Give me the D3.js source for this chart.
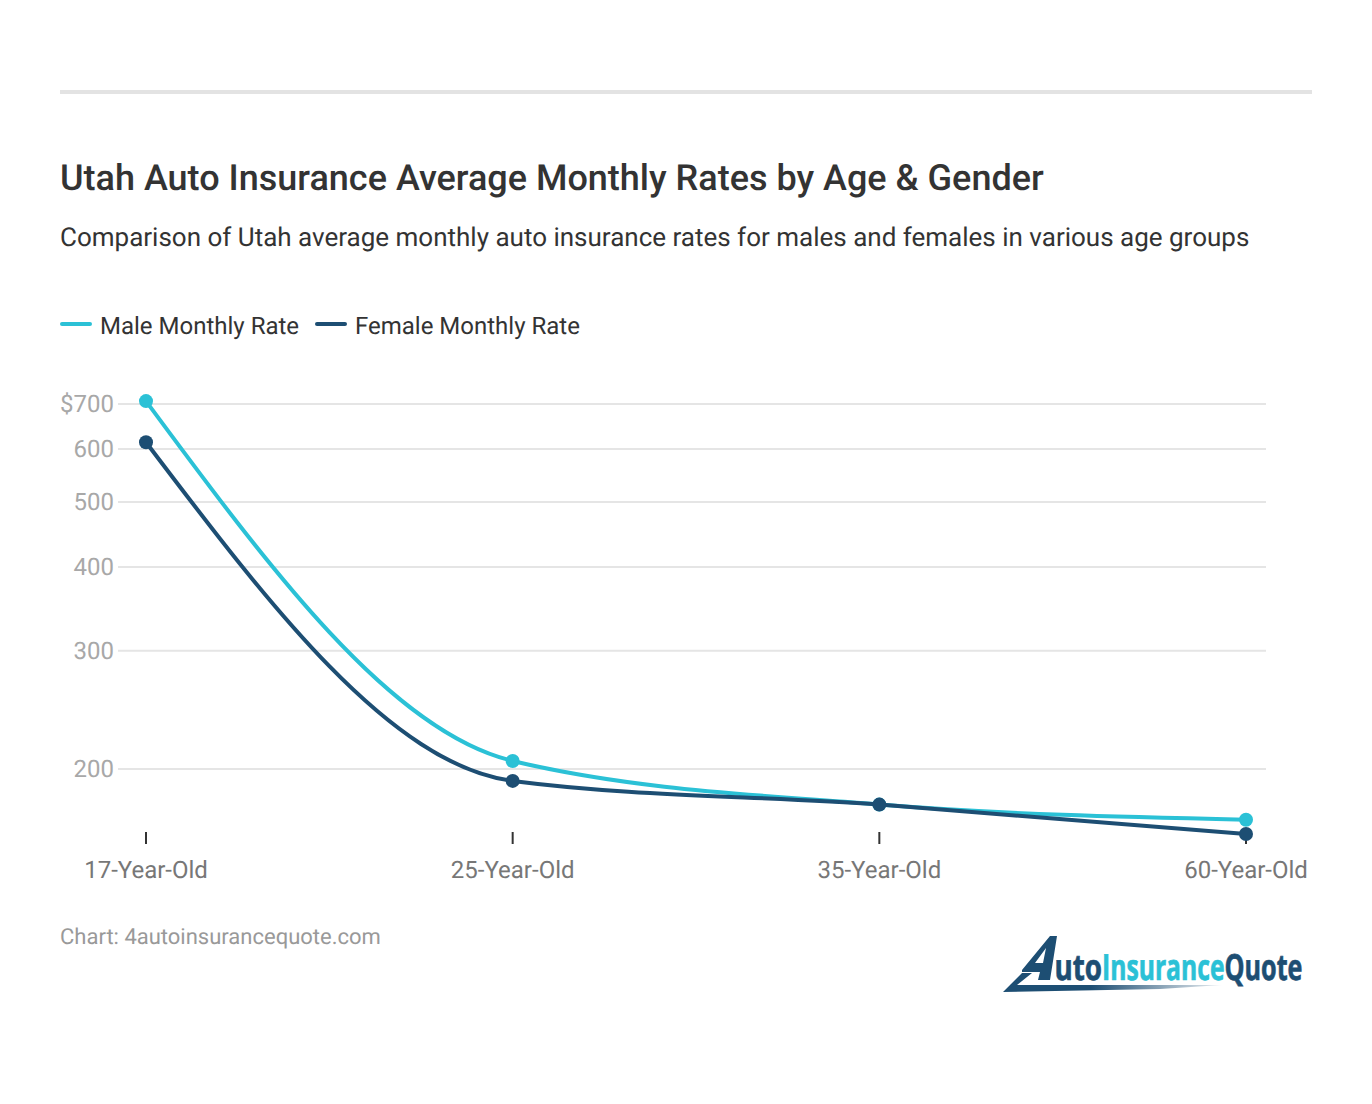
<!DOCTYPE html>
<html>
<head>
<meta charset="utf-8">
<script src="https://cdnjs.cloudflare.com/ajax/libs/d3/7.8.5/d3.min.js"></script>
<style>
  html, body { margin: 0; padding: 0; background: #fff; }
  text { font-family: Roboto, sans-serif; text-rendering: geometricPrecision; }
</style>
</head>
<body>
<div id="chart"></div>
<script>
const categories = ["17-Year-Old", "25-Year-Old", "35-Year-Old", "60-Year-Old"]
const maleRates = [707, 205.6, 177, 168]
const femaleRates = [614, 192, 177, 160]
const yTicks = [200, 300, 400, 500, 600, 700]

const cyan = "#2bc1d6"
const navy = "#1d4e73"

var width = 1372
var height = 1104

var svg = d3.select("#chart").append("svg")
  .attr("width", width)
  .attr("height", height)
  .style("display", "block")

// top rule
svg.append("rect").attr("x", 60).attr("y", 90).attr("width", 1252).attr("height", 4).attr("fill", "#e3e3e3")

svg.append("text").attr("x", 60).attr("y", 190)
  .attr("font-size", 36).attr("font-weight", 500).attr("fill", "#333")
  .text("Utah Auto Insurance Average Monthly Rates by Age & Gender")

svg.append("text").attr("x", 60).attr("y", 246)
  .attr("font-size", 26).attr("fill", "#333")
  .text("Comparison of Utah average monthly auto insurance rates for males and females in various age groups")

// legend
var legendItems = [
  { label: "Male Monthly Rate", color: cyan, x: 60 },
  { label: "Female Monthly Rate", color: navy, x: 315 }
]
var legend = svg.selectAll("g.legend").data(legendItems).enter().append("g")
  .attr("transform", d => "translate(" + d.x + ",324)")
legend.append("line").attr("x1", 2).attr("x2", 30)
  .attr("stroke", d => d.color).attr("stroke-width", 4).attr("stroke-linecap", "round")
legend.append("text").attr("x", 40).attr("y", 10)
  .attr("font-size", 24).attr("fill", "#333").text(d => d.label)

// scales
var x = d3.scalePoint().domain(categories).range([146, 1246])
var y = d3.scaleLog().domain([200, 700]).range([769, 404])

// grid + y labels
var yAxis = svg.append("g").attr("transform", "translate(118,0)")
  .call(d3.axisLeft(y).tickValues(yTicks).tickSize(0).tickPadding(4).offset(0)
    .tickFormat(d => d === 700 ? "$700" : d))
yAxis.select(".domain").remove()
yAxis.selectAll("text").attr("font-size", 24).attr("fill", "#a8a8a8")
  .style("font-family", "Roboto, sans-serif")
yAxis.selectAll(".tick").append("line").attr("x1", 0).attr("x2", 1148)
  .attr("stroke", "#e5e5e5").attr("stroke-width", 2)

// x axis
var xAxis = svg.append("g").attr("transform", "translate(0,832)")
  .call(d3.axisBottom(x).tickSize(12).tickPadding(17).offset(0))
xAxis.select(".domain").remove()
xAxis.selectAll("line").attr("stroke", "#333").attr("stroke-width", 2)
xAxis.selectAll("text").attr("font-size", 24).attr("fill", "#777")
  .style("font-family", "Roboto, sans-serif")

// lines
var line = d3.line()
  .x((d, i) => x(categories[i]))
  .y(d => y(d))
  .curve(d3.curveMonotoneX)

var series = [
  { values: maleRates, color: cyan },
  { values: femaleRates, color: navy }
]
var groups = svg.selectAll("g.series").data(series).enter().append("g")
groups.append("path")
  .attr("d", d => line(d.values))
  .attr("fill", "none")
  .attr("stroke", d => d.color)
  .attr("stroke-width", 4)
groups.selectAll("circle").data(d => d.values.map((v, i) => ({ v: v, i: i, color: d.color }))).enter()
  .append("circle")
  .attr("cx", d => x(categories[d.i]))
  .attr("cy", d => y(d.v))
  .attr("r", 7)
  .attr("fill", d => d.color)

svg.append("text").attr("x", 60).attr("y", 944)
  .attr("font-size", 22).attr("fill", "#999")
  .text("Chart: 4autoinsurancequote.com")

// logo
var logo = svg.append("g")
var grad = svg.append("defs").append("linearGradient").attr("id", "swoosh")
grad.append("stop").attr("offset", "0.4").attr("stop-color", navy)
grad.append("stop").attr("offset", "1").attr("stop-color", navy).attr("stop-opacity", 0.1)
logo.append("path").attr("fill", "url(#swoosh)")
  .attr("d", "M1003 992L1022 973L1032 973L1017 985L1222 985L1160 989Z")
logo.append("path").attr("fill", navy).attr("fill-rule", "evenodd")
  .attr("d", "M1050 936L1057 936L1050 980L1038 980L1040 972L1022 972L1022 970ZM1046 948L1035 963L1043 963Z")
var logoParts = [
  { text: "uto", color: navy, x: 1054.5, w: 47.5 },
  { text: "Insurance", color: cyan, x: 1102, w: 122.5 },
  { text: "Quote", color: navy, x: 1224.5, w: 78 }
]
// squeeze each word to its width instead of textLength, so the boxes stay apart
logo.selectAll("text").data(logoParts).enter().append("text")
  .attr("y", 980)
  .attr("font-size", 36).attr("font-weight", 700)
  .style("font-family", "'Open Sans', sans-serif")
  .attr("fill", d => d.color)
  .attr("stroke", d => d.color).attr("stroke-width", 0.7)
  .text(d => d.text)
  .attr("transform", function(d) {
    var sx = d.w / this.getComputedTextLength()
    return "translate(" + d.x + ",0) scale(" + sx + ",1)"
  })
</script>
</body>
</html>
